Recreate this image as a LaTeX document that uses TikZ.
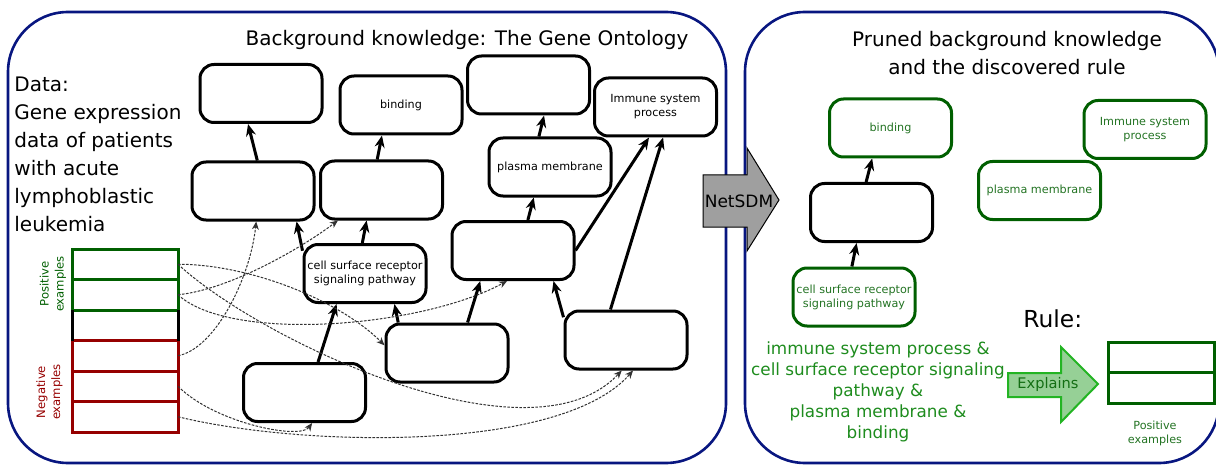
\documentclass[tikz,border=0pt]{standalone}
\usepackage{fontspec}
\setmainfont{DejaVu Sans}
\usetikzlibrary{arrows.meta}
\definecolor{navy}{RGB}{8,22,128}
\definecolor{posgreen}{RGB}{0,95,0}
\definecolor{negred}{RGB}{150,0,0}
\definecolor{nodegreen}{RGB}{35,115,35}
\definecolor{rulegreen}{RGB}{30,140,30}
\definecolor{explfill}{RGB}{150,208,150}
\definecolor{explline}{RGB}{35,180,35}
\definecolor{expltext}{RGB}{20,110,20}
\definecolor{exline}{RGB}{50,50,50}
\begin{document}
\begin{tikzpicture}[x=0.5pt, y=-0.5pt,
	panel/.style={draw=navy, line width=1.3pt, rounded corners=30pt},
	gonode/.style={draw, line width=1.5pt, rounded corners=7pt, minimum width=61pt, minimum height=29pt, inner sep=0.5pt, align=center, font=\fontsize{5.6}{7}\selectfont},
	prunednode/.style={gonode, draw=posgreen, text=nodegreen},
	row/.style={line width=1.5pt, minimum width=53pt, minimum height=15.25pt, inner sep=0pt, outer sep=0pt},
	isa/.style={line width=1.5pt, -{Stealth[length=6pt,width=5pt,inset=2pt]}},
	ex/.style={exline, line width=0.5pt, dash pattern=on 1.3pt off 0.7pt, -{Stealth[length=4pt,width=3.4pt,inset=1.2pt]}},
	title/.style={font=\fontsize{10}{14}\selectfont}]
	\useasboundingbox (0,0) rectangle (1216,465);
	\clip (0,0) rectangle (1216,465);
	
	\draw[panel] (8,12) rectangle (726,463);
	\draw[panel] (745,12) rectangle (1219,463);
	
	\node[title, anchor=base] (bgtitle) at (467,46) {Background knowledge: The Gene Ontology};
	\node[title, anchor=north west, align=left, inner sep=0pt] (data) at (14,77) {Data:\\Gene expression\\data of patients\\with acute\\lymphoblastic\\leukemia};
	
	% examples
	\foreach \nm/\y/\rowcol in {pos1/264.25/posgreen, pos2/294.75/posgreen, neg1/355.75/negred, neg2/386.25/negred, neg3/416.75/negred}
	{
		\node[row, draw=\rowcol] (\nm) at (125,\y) {};
	}
	\draw[line width=1.5pt] (pos2.south west) -- (neg1.north west) (pos2.south east) -- (neg1.north east);
	\node[rotate=90, align=center, text=posgreen, font=\fontsize{5.8}{7.5}\selectfont] (poslbl) at (53,284) {Positive\\examples};
	\node[rotate=90, align=center, text=negred, font=\fontsize{5.8}{7.5}\selectfont] (neglbl) at (49.5,392) {Negative\\examples};
	
	% ontology
	\node[gonode] (top1) at (261,93.5) {};
	\node[gonode] (bind) at (401,105) {binding};
	\node[gonode] (top3) at (528.5,85) {};
	\node[gonode] (immune) at (655.5,107) {Immune system\\process};
	\node[gonode] (mid1) at (253,191) {};
	\node[gonode] (mid2) at (381.5,190) {};
	\node[gonode] (plasma) at (550,167) {plasma membrane};
	\node[gonode] (csr) at (365,273.5) {cell surface receptor\\signaling pathway};
	\node[gonode] (mid3) at (513,250.5) {};
	\node[gonode] (low1) at (447,353) {};
	\node[gonode] (low2) at (626,340) {};
	\node[gonode] (low3) at (304.5,392.5) {};
	
	\draw[isa] (mid1.82) -- (top1.247);
	\draw[isa] (csr.160) -- (mid1.325);
	\draw[isa] (csr.95) -- (mid2.244);
	\draw[isa] (mid2.98) -- (bind.238);
	\draw[isa] (plasma.110) -- (top3.297);
	\draw[isa] (mid3.64) -- (plasma.242);
	\draw[isa] (mid3.east) -- (immune.258);
	\draw[isa] (low2.117) -- (immune.284);
	\draw[isa] (low1.56) -- (mid3.223);
	\draw[isa] (low2.160) -- (mid3.323);
	\draw[isa] (low1.148) -- (csr.314);
	\draw[isa] (low3.66) -- (csr.227);
	
	\draw[ex] (pos1.east) .. controls +(72,0) and +(-45,-45) .. (low1.173);
	\draw[ex] (pos1.east) .. controls +(82,76) and +(-92,98) .. (low2.262);
	\draw[ex] (pos2.east) .. controls +(50,-5) and +(-40,30) .. (mid2.215);
	\draw[ex] (pos2.east) .. controls +(52,48) and +(-87,47) .. (mid3.259);
	\draw[ex] (neg1.east) .. controls +(37,-7) and +(-6,57) .. (mid1.276);
	\draw[ex] (neg2.east) .. controls +(37,37) and +(-12,17) .. (low3.284);
	\draw[ex] (neg3.east) .. controls +(122,30) and +(-73,83) .. (low2.283);
	
	% NetSDM
	\draw[fill=gray!75, line width=0.5pt] (703,175) -- (747,175) -- (747,148) -- (779,200) -- (747,251) -- (747,227) -- (703,227) -- cycle;
	\node[font=\fontsize{8.5}{10}\selectfont, inner sep=0pt] (netsdm) at (739,201) {NetSDM};
	
	% pruned
	\node[title, anchor=north, align=center, inner sep=0pt] (prtitle) at (1007,31) {Pruned background knowledge\\and the discovered rule};
	\node[prunednode] (rbind) at (890.5,128) {binding};
	\node[prunednode] (rimmune) at (1145,129.5) {Immune system\\process};
	\node[prunednode] (rplasma) at (1039.5,190.5) {plasma membrane};
	\node[gonode] (rmid) at (871.5,212.5) {};
	\node[prunednode] (rcsr) at (854,297) {cell surface receptor\\signaling pathway};
	\draw[isa] (rmid.100) -- (rbind.239);
	\draw[isa] (rcsr.94) -- (rmid.244);
	
	\node[anchor=north, align=center, inner sep=0pt, text=rulegreen, font=\fontsize{8.4}{10.5}\selectfont] (ruletxt) at (878,341) {immune system process \&\\cell surface receptor signaling\\pathway \&\\plasma membrane \&\\binding};
	\node[anchor=base west, inner sep=0pt, font=\fontsize{11.7}{14}\selectfont] (rulelbl) at (1023,327) {Rule:};
	
	\draw[fill=explfill, draw=explline, line width=1pt] (1008,373) -- (1061,373) -- (1061,347) -- (1098,384) -- (1061,422) -- (1061,397) -- (1008,397) -- cycle;
	\node[text=expltext, font=\fontsize{7.3}{9}\selectfont, inner sep=0pt] (explains) at (1048,384) {Explains};
	
	\foreach \nm/\y in {rpos1/357.5, rpos2/388}
	{
		\node[row, draw=posgreen] (\nm) at (1161.5,\y) {};
	}
	\node[align=center, text=nodegreen, font=\fontsize{5.6}{7}\selectfont] (rposlbl) at (1155,433) {Positive\\examples};
\end{tikzpicture}
\end{document}
